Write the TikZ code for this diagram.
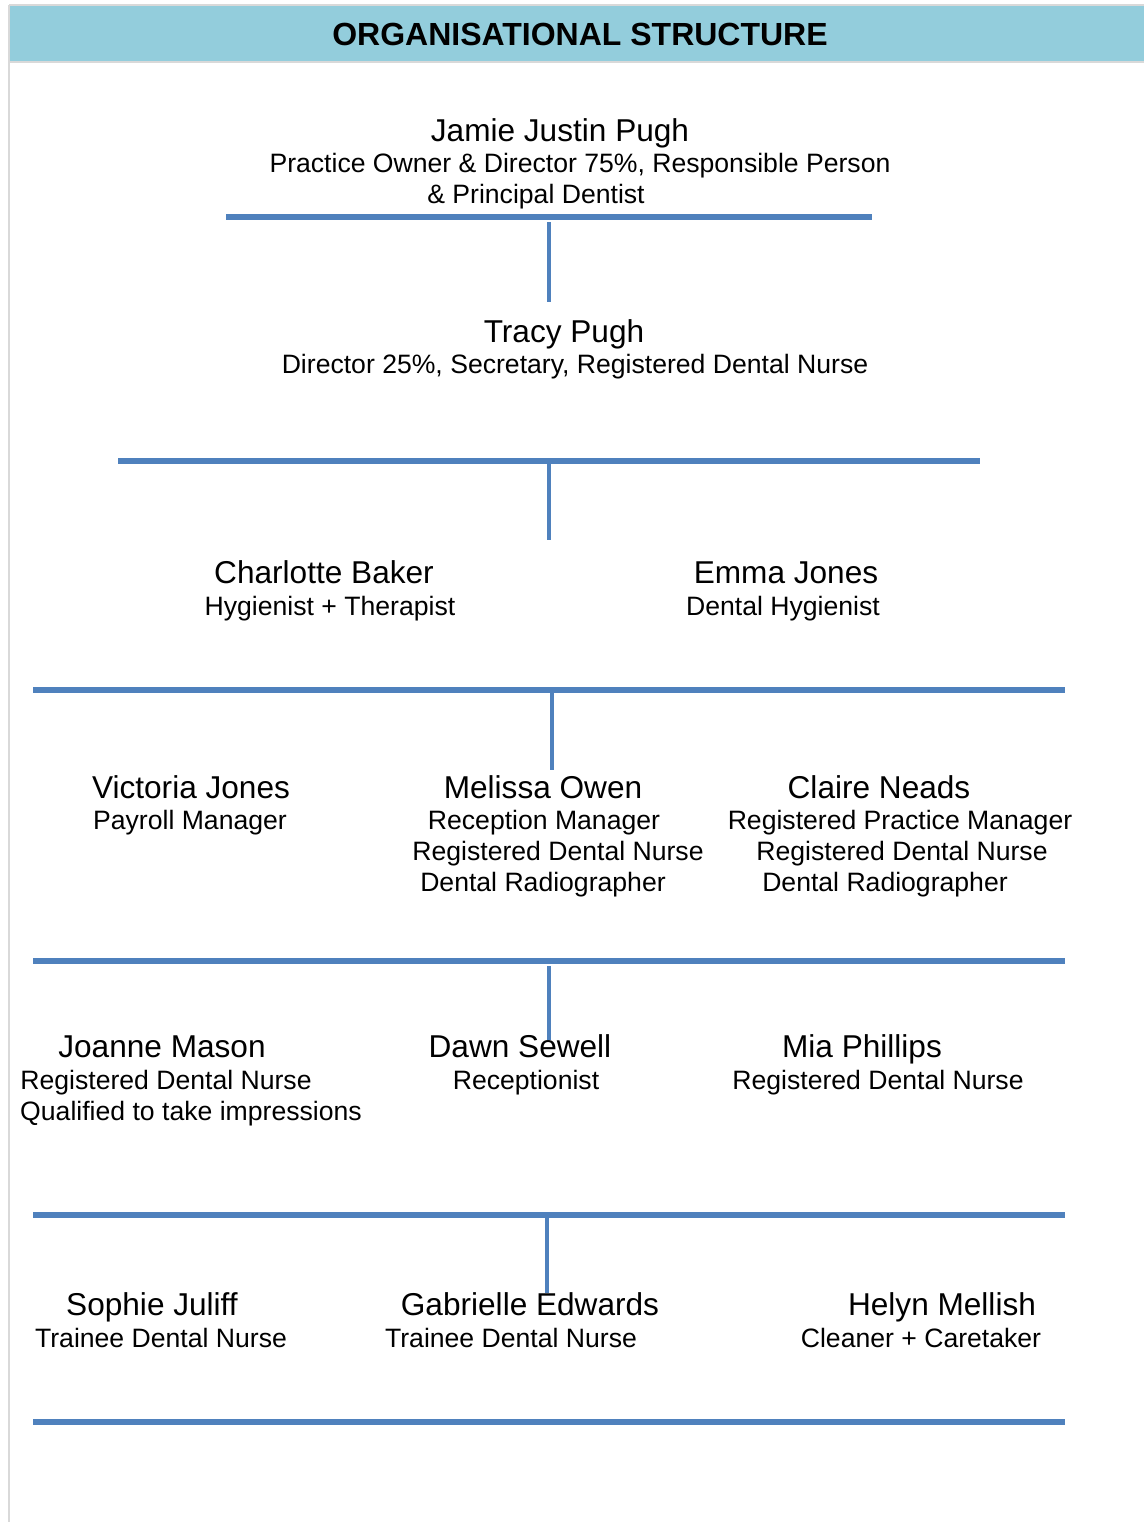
\documentclass[tikz,border=0pt]{standalone}
\usepackage{fontspec}
\setmainfont{Liberation Sans}
\usepackage{xcolor}
\usepackage{tikz}
\usetikzlibrary{positioning}
\definecolor{barblue}{HTML}{4F81BD}
\definecolor{headblue}{HTML}{93CDDC}
\definecolor{edgegray}{HTML}{D9D9D9}
\tikzstyle{persontext} = [font=\fontsize{15.8}{18}\selectfont, anchor=base, inner sep=0pt]
\tikzstyle{roletext} = [font=\fontsize{13.3}{16}\selectfont, anchor=base, inner sep=0pt]
\tikzstyle{bar} = [draw=barblue, line width=2.6pt]
\tikzstyle{barshadow} = [draw=black!30, line width=3pt, yshift=-2.4pt]
\tikzstyle{stem} = [draw=barblue, line width=2pt]

\begin{document}
\begin{tikzpicture}[x=0.5pt, y=-0.5pt]
  \useasboundingbox (0,0) rectangle (1144,1522);
  % page edge and header band
  \fill[headblue] (9,5) rectangle (1144,62);
  \draw[edgegray, line width=1pt] (9,5) -- (1144,5);
  \draw[edgegray, line width=1pt] (9,62) -- (1144,62);
  \draw[edgegray, line width=0.6pt] (9,5) -- (9,1522);
  \node (title) [font=\fontsize{16}{19}\selectfont\bfseries] at (580,34) {ORGANISATIONAL STRUCTURE};

  % bars and stems
  \coordinate (b1l) at (226,217);  \coordinate (b1r) at (872,217);
  \coordinate (b2l) at (118,461);  \coordinate (b2r) at (980,461);
  \coordinate (b3l) at (33,690);   \coordinate (b3r) at (1065,690);
  \coordinate (b4l) at (33,961);   \coordinate (b4r) at (1065,961);
  \coordinate (b5l) at (33,1215);  \coordinate (b5r) at (1065,1215);
  \coordinate (b6l) at (33,1422);  \coordinate (b6r) at (1065,1422);
  \coordinate (s1t) at (549,222);  \coordinate (s1b) at (549,302);
  \coordinate (s2t) at (549,463);  \coordinate (s2b) at (549,540);
  \coordinate (s3t) at (552,692);  \coordinate (s3b) at (552,770);
  \coordinate (s4t) at (549,966);  \coordinate (s4b) at (549,1040);
  \coordinate (s5t) at (547,1217); \coordinate (s5b) at (547,1293);

  \draw[barshadow] (b1l) -- (b1r);
  \draw[barshadow] (b2l) -- (b2r);
  \draw[barshadow] (b3l) -- (b3r);
  \draw[barshadow] (b4l) -- (b4r);
  \draw[barshadow] (b5l) -- (b5r);
  \draw[barshadow] (b6l) -- (b6r);
  \draw[bar] (b1l) -- (b1r);
  \draw[bar] (b2l) -- (b2r);
  \draw[bar] (b3l) -- (b3r);
  \draw[bar] (b4l) -- (b4r);
  \draw[bar] (b5l) -- (b5r);
  \draw[bar] (b6l) -- (b6r);
  \draw[stem] (s1t) -- (s1b);
  \draw[stem] (s2t) -- (s2b);
  \draw[stem] (s3t) -- (s3b);
  \draw[stem] (s4t) -- (s4b);
  \draw[stem] (s5t) -- (s5b);

  % level 1
  \node (jamie) [persontext] at (560,141) {Jamie Justin Pugh};
  \node (jamiea) [roletext] at (580,172) {Practice Owner \& Director 75\%, Responsible Person};
  \node (jamieb) [roletext] at (536,203) {\& Principal Dentist};
  % level 2
  \node (tracy) [persontext] at (564,342) {Tracy Pugh};
  \node (tracya) [roletext] at (575,373) {Director 25\%, Secretary, Registered Dental Nurse};
  % level 3
  \node (charlotte) [persontext] at (324,583) {Charlotte Baker};
  \node (charlottea) [roletext] at (330,615) {Hygienist + Therapist};
  \node (emma) [persontext] at (786,583) {Emma Jones};
  \node (emmaa) [roletext] at (783,615) {Dental Hygienist};
  % level 4
  \node (victoria) [persontext] at (191,798) {Victoria Jones};
  \node (victoriaa) [roletext] at (190,829) {Payroll Manager};
  \node (melissa) [persontext] at (543,798) {Melissa Owen};
  \node (melissaa) [roletext] at (544,829) {Reception Manager};
  \node (melissab) [roletext] at (558,860) {Registered Dental Nurse};
  \node (melissac) [roletext] at (543,891) {Dental Radiographer};
  \node (claire) [persontext] at (879,798) {Claire Neads};
  \node (clairea) [roletext] at (900,829) {Registered Practice Manager};
  \node (claireb) [roletext] at (902,860) {Registered Dental Nurse};
  \node (clairec) [roletext] at (885,891) {Dental Radiographer};
  % level 5
  \node (joanne) [persontext] at (162,1057) {Joanne Mason};
  \node (joannea) [roletext] at (166,1089) {Registered Dental Nurse};
  \node (joanneb) [roletext] at (191,1120) {Qualified to take impressions};
  \node (dawn) [persontext] at (520,1057) {Dawn Sewell};
  \node (dawna) [roletext] at (526,1089) {Receptionist};
  \node (mia) [persontext] at (862,1057) {Mia Phillips};
  \node (miaa) [roletext] at (878,1089) {Registered Dental Nurse};
  % level 6
  \node (sophie) [persontext] at (152,1315) {Sophie Juliff};
  \node (sophiea) [roletext] at (161,1347) {Trainee Dental Nurse};
  \node (gabrielle) [persontext] at (530,1315) {Gabrielle Edwards};
  \node (gabriellea) [roletext] at (511,1347) {Trainee Dental Nurse};
  \node (helyn) [persontext] at (942,1315) {Helyn Mellish};
  \node (helyna) [roletext] at (921,1347) {Cleaner + Caretaker};
\end{tikzpicture}
\end{document}
